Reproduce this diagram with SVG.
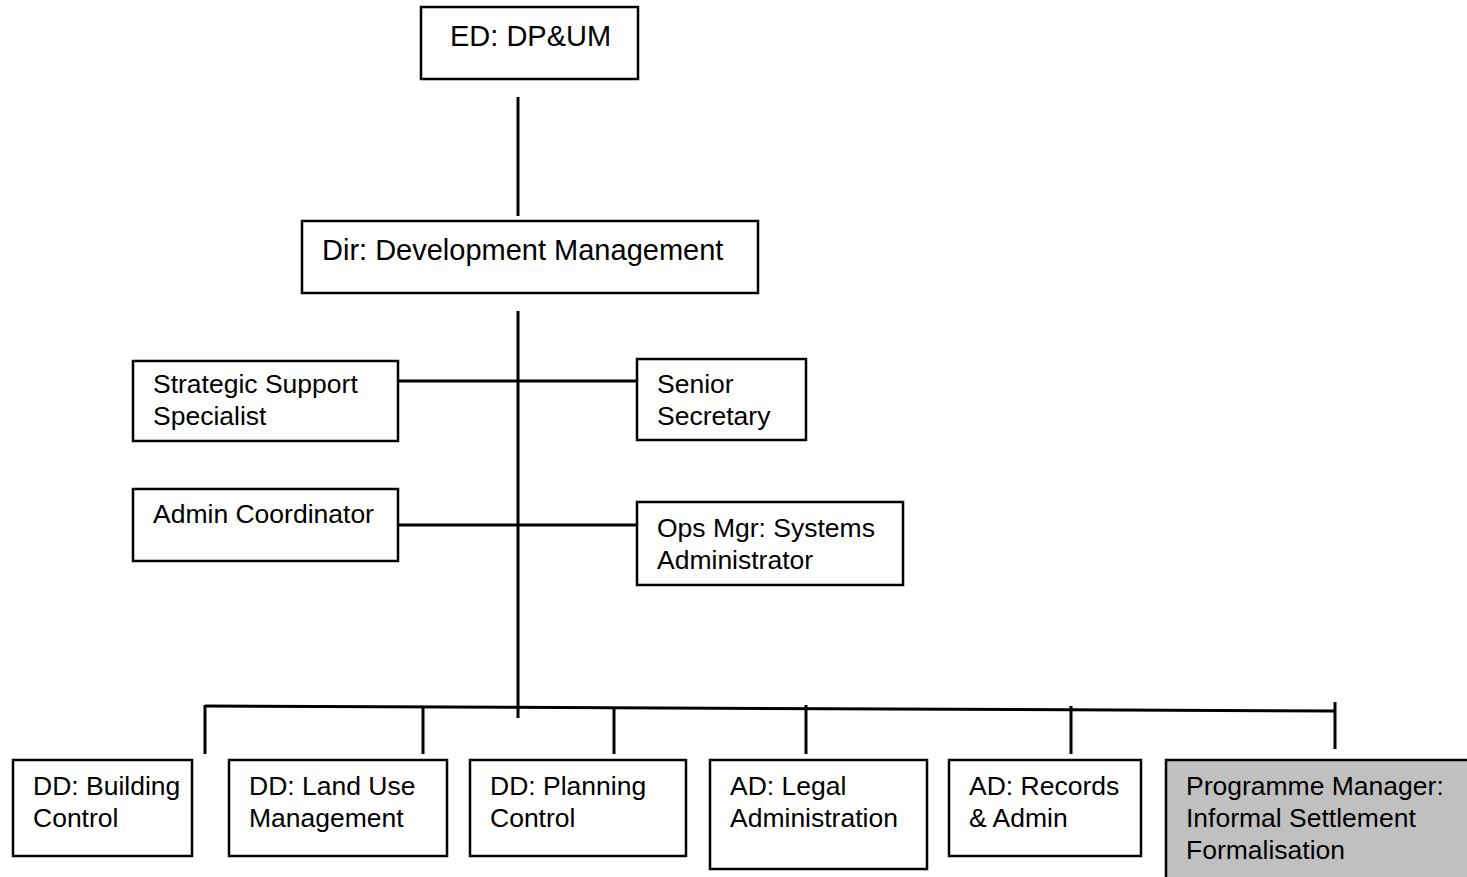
<svg xmlns="http://www.w3.org/2000/svg" width="1467" height="877" viewBox="0 0 1467 877">
<style>
.box{fill:#fff;stroke:#000;stroke-width:2.5}
.gray{fill:#c0c0c0;stroke:#000;stroke-width:2.5}
.t{font-family:"Liberation Sans",Arial,sans-serif;font-size:26.5px;fill:#000}
.big{font-size:29px}
.c line{stroke:#000;stroke-width:3}
</style>
<rect width="1467" height="877" fill="#fff"/>
<g class="c" id="connectors">
<line x1="518" y1="97" x2="518" y2="216"/>
<line x1="518" y1="311" x2="518" y2="718"/>
<line x1="398" y1="381" x2="637" y2="381"/>
<line x1="398" y1="525" x2="637" y2="525"/>
<line x1="205" y1="706" x2="1334" y2="711"/>
<line x1="205" y1="705" x2="205" y2="754"/>
<line x1="423" y1="707" x2="423" y2="754"/>
<line x1="614" y1="707" x2="614" y2="754"/>
<line x1="806" y1="705" x2="806" y2="754"/>
<line x1="1071" y1="706" x2="1071" y2="754"/>
<line x1="1335" y1="702" x2="1335" y2="749"/>
</g>
<g id="ed"><rect class="box" x="421" y="7" width="217" height="72"/><text class="t big" x="450" y="46">ED: DP&amp;UM</text></g>
<g id="dir"><rect class="box" x="302" y="221" width="456" height="72"/><text class="t big" x="322" y="260">Dir: Development Management</text></g>
<g id="ssp"><rect class="box" x="133" y="361" width="265" height="80"/><text class="t" x="153" y="393">Strategic Support</text><text class="t" x="153" y="425">Specialist</text></g>
<g id="sec"><rect class="box" x="637" y="359" width="169" height="81"/><text class="t" x="657" y="393">Senior</text><text class="t" x="657" y="425">Secretary</text></g>
<g id="adm"><rect class="box" x="133" y="489" width="265" height="72"/><text class="t" x="153" y="523">Admin Coordinator</text></g>
<g id="ops"><rect class="box" x="637" y="502" width="266" height="83"/><text class="t" x="657" y="537">Ops Mgr: Systems</text><text class="t" x="657" y="569">Administrator</text></g>
<g id="bc"><rect class="box" x="13" y="760" width="179" height="96"/><text class="t" x="33" y="795">DD: Building</text><text class="t" x="33" y="827">Control</text></g>
<g id="lum"><rect class="box" x="229" y="760" width="218" height="96"/><text class="t" x="249" y="795">DD: Land Use</text><text class="t" x="249" y="827">Management</text></g>
<g id="pc"><rect class="box" x="470" y="760" width="216" height="96"/><text class="t" x="490" y="795">DD: Planning</text><text class="t" x="490" y="827">Control</text></g>
<g id="legal"><rect class="box" x="710" y="760" width="217" height="109"/><text class="t" x="730" y="795">AD: Legal</text><text class="t" x="730" y="827">Administration</text></g>
<g id="rec"><rect class="box" x="949" y="760" width="192" height="96"/><text class="t" x="969" y="795">AD: Records</text><text class="t" x="969" y="827">&amp; Admin</text></g>
<g id="pm"><rect class="gray" x="1166" y="760" width="310" height="130"/><text class="t" x="1186" y="795">Programme Manager:</text><text class="t" x="1186" y="827">Informal Settlement</text><text class="t" x="1186" y="859">Formalisation</text></g>
</svg>
